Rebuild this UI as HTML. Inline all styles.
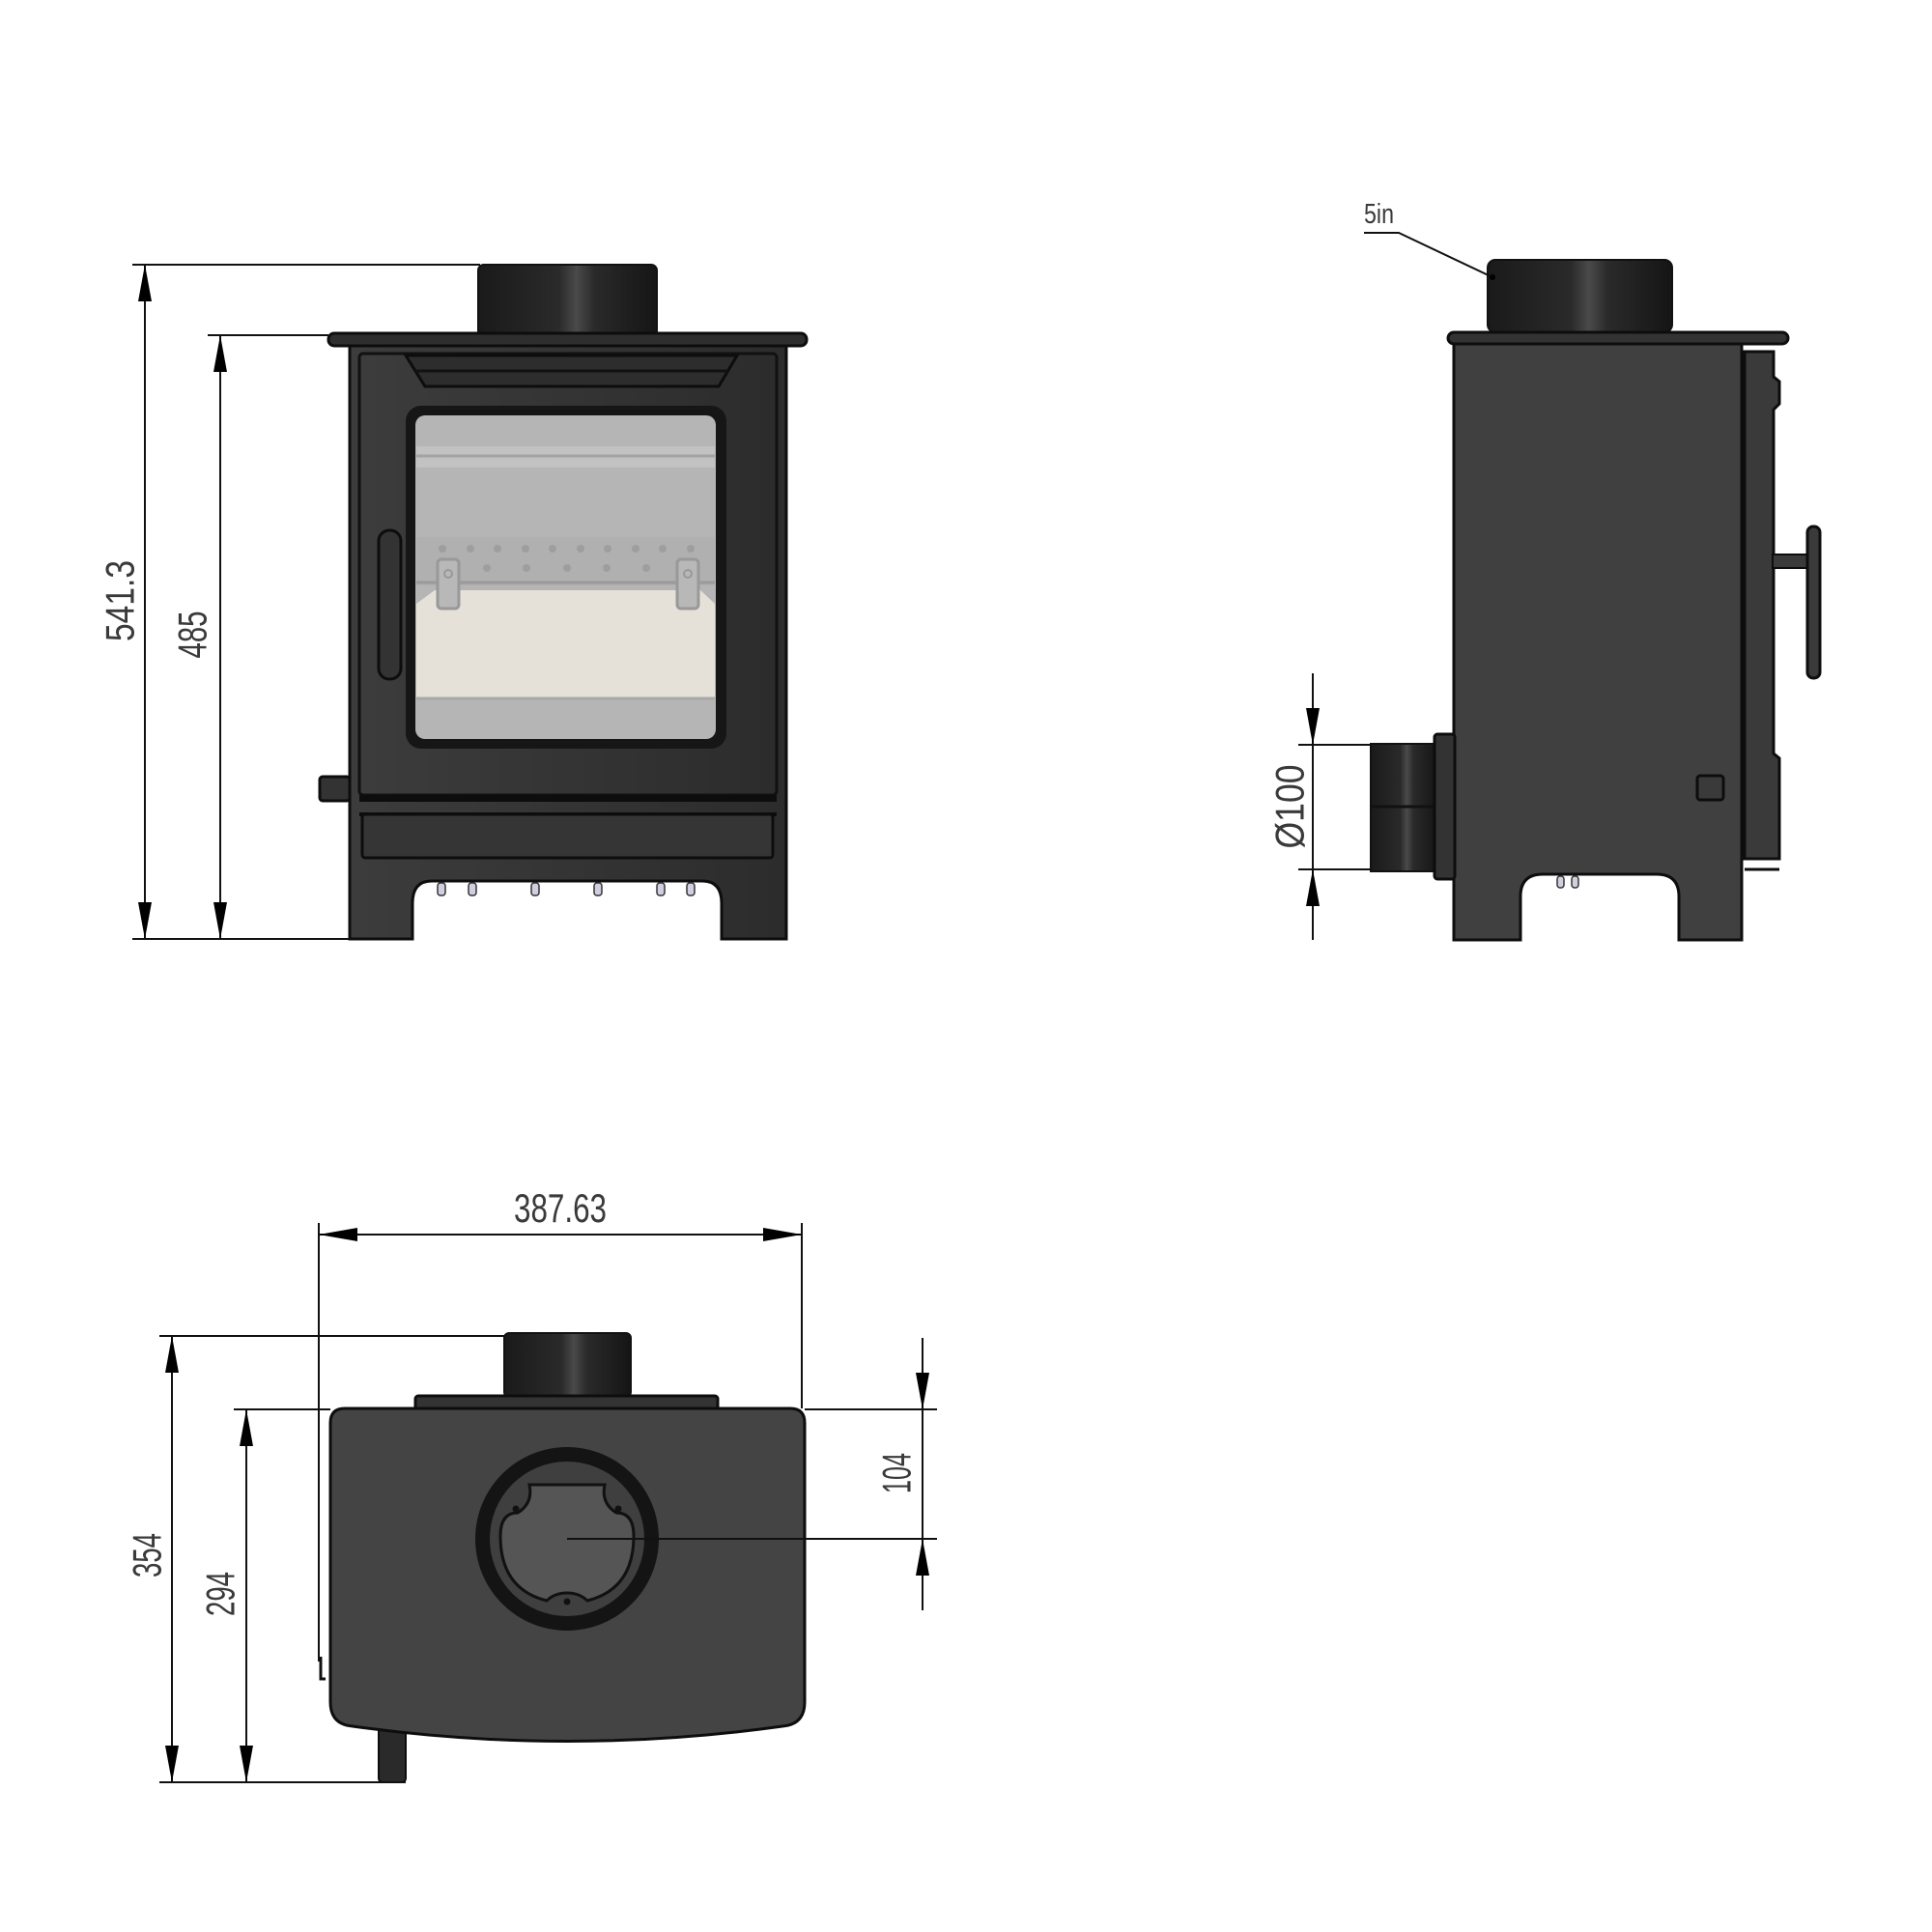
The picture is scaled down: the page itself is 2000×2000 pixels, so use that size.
<!DOCTYPE html>
<html><head><meta charset="utf-8"><style>
html,body{margin:0;padding:0;background:#fff;}
svg{display:block;}
text{font-family:"Liberation Sans",sans-serif;fill:#3a3a3a;font-size:42px;}
</style></head><body>
<svg width="2000" height="2000" viewBox="0 0 2000 2000" xmlns="http://www.w3.org/2000/svg">
<defs>
<linearGradient id="flue" x1="0" x2="1" y1="0" y2="0">
<stop offset="0" stop-color="#1a1a1a"/><stop offset="0.45" stop-color="#2a2a2a"/><stop offset="0.55" stop-color="#4a4a4a"/><stop offset="0.65" stop-color="#2a2a2a"/><stop offset="1" stop-color="#151515"/>
</linearGradient>
<linearGradient id="body" x1="0" x2="1" y1="0" y2="0">
<stop offset="0" stop-color="#3c3c3c"/><stop offset="1" stop-color="#2c2c2c"/>
</linearGradient>
</defs>

<!-- ============ FRONT VIEW ============ -->
<rect x="495" y="274" width="185" height="74" rx="6" fill="url(#flue)" stroke="#111" stroke-width="2"/>
<path d="M362,358 L814,358 L814,972 L747,972 L747,935 Q747,912 727,912 L447,912 Q427,912 427,935 L427,972 L362,972 Z" fill="url(#body)" stroke="#0d0d0d" stroke-width="3"/>
<rect x="340" y="345" width="495" height="13" rx="6" fill="#2e2e2e" stroke="#0d0d0d" stroke-width="3"/>
<rect x="372" y="366" width="432" height="457" rx="4" fill="url(#body)" stroke="#111" stroke-width="3"/>
<polygon points="420,368 763,368 744,400 440,400" fill="#2d2d2d" stroke="#0d0d0d" stroke-width="3"/>
<line x1="430" y1="384" x2="754" y2="384" stroke="#111" stroke-width="3"/>
<rect x="420" y="420" width="332" height="355" rx="16" fill="#161616"/>
<rect x="430" y="430" width="311" height="335" rx="10" fill="#b5b5b5"/>
<rect x="431" y="462" width="309" height="22" fill="#c2c2c2"/>
<line x1="431" y1="472" x2="740" y2="472" stroke="#a3a3a3" stroke-width="3"/>
<rect x="431" y="556" width="309" height="50" fill="#b0b0b0"/>
<line x1="431" y1="603" x2="740" y2="603" stroke="#9a9a9a" stroke-width="3"/>
<g fill="#9e9e9e">
<circle cx="458" cy="568" r="4"/><circle cx="487" cy="568" r="4"/><circle cx="515" cy="568" r="4"/><circle cx="544" cy="568" r="4"/><circle cx="572" cy="568" r="4"/><circle cx="601" cy="568" r="4"/><circle cx="629" cy="568" r="4"/><circle cx="658" cy="568" r="4"/><circle cx="686" cy="568" r="4"/><circle cx="715" cy="568" r="4"/>
<circle cx="504" cy="588" r="4"/><circle cx="545" cy="588" r="4"/><circle cx="587" cy="588" r="4"/><circle cx="628" cy="588" r="4"/><circle cx="669" cy="588" r="4"/>
</g>
<path d="M431,625 L450,611 L725,611 L740,625 L740,723 L431,723 Z" fill="#e6e1d8"/>
<line x1="431" y1="723" x2="740" y2="723" stroke="#a8a8a8" stroke-width="3"/>
<rect x="453" y="579" width="22" height="51" rx="4" fill="#b8b8b8" stroke="#999" stroke-width="3"/>
<circle cx="464" cy="594" r="4" fill="none" stroke="#999" stroke-width="2"/>
<rect x="701" y="579" width="22" height="51" rx="4" fill="#b8b8b8" stroke="#999" stroke-width="3"/>
<circle cx="712" cy="594" r="4" fill="none" stroke="#999" stroke-width="2"/>
<rect x="392" y="549" width="23" height="154" rx="11" fill="#333" stroke="#0d0d0d" stroke-width="3"/>
<rect x="331" y="804" width="31" height="25" rx="3" fill="#333" stroke="#0d0d0d" stroke-width="3"/>
<rect x="372" y="823" width="432" height="7" fill="#0d0d0d"/>
<line x1="372" y1="843" x2="804" y2="843" stroke="#0d0d0d" stroke-width="4"/>
<rect x="375" y="843" width="425" height="45" rx="3" fill="#353535" stroke="#0d0d0d" stroke-width="3"/>
<g fill="#cfcfe0" stroke="#333" stroke-width="1.5">
<rect x="453" y="914" width="8" height="13" rx="3"/><rect x="485" y="914" width="8" height="13" rx="3"/><rect x="550" y="914" width="8" height="13" rx="3"/><rect x="615" y="914" width="8" height="13" rx="3"/><rect x="680" y="914" width="8" height="13" rx="3"/><rect x="711" y="914" width="8" height="13" rx="3"/>
</g>
<g stroke="#111" stroke-width="2">
<line x1="137" y1="274" x2="497" y2="274"/>
<line x1="137" y1="972" x2="362" y2="972"/>
<line x1="215" y1="347" x2="340" y2="347"/>
<line x1="150" y1="274" x2="150" y2="972"/>
<line x1="228" y1="347" x2="228" y2="972"/>
</g>
<g fill="#000">
<polygon points="150,274 143,312 157,312"/><polygon points="150,972 143,934 157,934"/>
<polygon points="228,347 221,385 235,385"/><polygon points="228,972 221,934 235,934"/>
</g>
<text transform="translate(124,622) rotate(-90)" text-anchor="middle" dominant-baseline="central" textLength="84" lengthAdjust="spacingAndGlyphs">541.3</text>
<text transform="translate(199,657) rotate(-90)" text-anchor="middle" dominant-baseline="central" textLength="49" lengthAdjust="spacingAndGlyphs">485</text>

<!-- ============ SIDE VIEW ============ -->
<rect x="1540" y="269" width="191" height="75" rx="8" fill="url(#flue)" stroke="#111" stroke-width="2"/>
<path d="M1505,356 L1803,356 L1803,973 L1738,973 L1738,928 Q1738,905 1715,905 L1597,905 Q1574,905 1574,928 L1574,973 L1505,973 Z" fill="#404040" stroke="#0d0d0d" stroke-width="3"/>
<rect x="1499" y="344" width="352" height="12" rx="6" fill="#333" stroke="#0d0d0d" stroke-width="3"/>
<path d="M1806,364 L1836,364 L1836,390 L1842,395 L1842,418 L1836,424 L1836,780 L1842,785 L1842,889 L1806,889 Z" fill="#3a3a3a" stroke="#0d0d0d" stroke-width="3"/>
<line x1="1806" y1="900" x2="1842" y2="900" stroke="#0d0d0d" stroke-width="3"/>
<rect x="1835" y="574" width="38" height="14" fill="#3a3a3a" stroke="#0d0d0d" stroke-width="2"/>
<rect x="1871" y="545" width="13" height="157" rx="6" fill="#3a3a3a" stroke="#0d0d0d" stroke-width="3"/>
<rect x="1419" y="770" width="68" height="132" fill="url(#flue)" stroke="#111" stroke-width="2"/>
<line x1="1419" y1="835" x2="1487" y2="835" stroke="#111" stroke-width="3"/>
<rect x="1485" y="760" width="21" height="150" rx="3" fill="#333" stroke="#0d0d0d" stroke-width="3"/>
<rect x="1757" y="803" width="27" height="25" rx="3" fill="#3a3a3a" stroke="#0d0d0d" stroke-width="3"/>
<g fill="#cfcfe0" stroke="#333" stroke-width="1.5"><rect x="1612" y="907" width="7" height="12" rx="3"/><rect x="1627" y="907" width="7" height="12" rx="3"/></g>
<g stroke="#111" stroke-width="2">
<line x1="1359" y1="697" x2="1359" y2="973"/>
<line x1="1344" y1="771" x2="1419" y2="771"/>
<line x1="1344" y1="900" x2="1419" y2="900"/>
<polyline points="1412,241 1448,241 1545,287" fill="none"/>
</g>
<g fill="#000">
<polygon points="1359,771 1352,733 1366,733"/><polygon points="1359,900 1352,938 1366,938"/>
</g>
<circle cx="1545" cy="287" r="3" fill="#000"/>
<text transform="translate(1335,835) rotate(-90)" text-anchor="middle" dominant-baseline="central" textLength="87" lengthAdjust="spacingAndGlyphs">Ø100</text>
<text x="1412" y="231" style="font-size:29px" textLength="31" lengthAdjust="spacingAndGlyphs">5in</text>

<!-- ============ TOP VIEW ============ -->
<rect x="522" y="1380" width="131" height="66" rx="5" fill="url(#flue)" stroke="#111" stroke-width="2"/>
<rect x="430" y="1445" width="313" height="15" rx="3" fill="#333" stroke="#0d0d0d" stroke-width="3"/>
<rect x="392" y="1785" width="28" height="60" rx="4" fill="#2a2a2a" stroke="#0d0d0d" stroke-width="2"/>
<path d="M357,1458 L818,1458 Q833,1458 833,1473 L833,1762 Q833,1785 810,1787 Q587,1818 365,1787 Q342,1785 342,1762 L342,1473 Q342,1458 357,1458 Z" fill="#444" stroke="#0d0d0d" stroke-width="3"/>
<circle cx="587" cy="1593" r="95" fill="#141414"/>
<circle cx="587" cy="1593" r="80" fill="#3f3f3f"/>
<path d="M548,1537 L626,1537 Q622,1556 638,1566 Q656,1566 656,1590 Q656,1645 608,1657 Q600,1649 587,1649 Q574,1649 566,1657 Q518,1645 518,1590 Q518,1566 536,1566 Q552,1556 548,1537 Z" fill="#555" stroke="#111" stroke-width="3"/>
<circle cx="534" cy="1562" r="3.5" fill="#111"/><circle cx="640" cy="1562" r="3.5" fill="#111"/><circle cx="587" cy="1658" r="3.5" fill="#111"/>
<path d="M332,1715 L332,1738 L337,1738" fill="none" stroke="#111" stroke-width="3"/>
<g stroke="#111" stroke-width="2">
<line x1="330" y1="1278" x2="830" y2="1278"/>
<line x1="330" y1="1266" x2="330" y2="1720"/>
<line x1="830" y1="1266" x2="830" y2="1458"/>
<line x1="165" y1="1383" x2="522" y2="1383"/>
<line x1="242" y1="1459" x2="342" y2="1459"/>
<line x1="165" y1="1845" x2="420" y2="1845"/>
<line x1="178" y1="1383" x2="178" y2="1845"/>
<line x1="255" y1="1459" x2="255" y2="1845"/>
<line x1="833" y1="1459" x2="970" y2="1459"/>
<line x1="587" y1="1593" x2="970" y2="1593"/>
<line x1="955" y1="1385" x2="955" y2="1667"/>
</g>
<g fill="#000">
<polygon points="330,1278 370,1271 370,1285"/><polygon points="830,1278 790,1271 790,1285"/>
<polygon points="178,1383 171,1421 185,1421"/><polygon points="178,1845 171,1807 185,1807"/>
<polygon points="255,1459 248,1497 262,1497"/><polygon points="255,1845 248,1807 262,1807"/>
<polygon points="955,1459 948,1421 962,1421"/><polygon points="955,1593 948,1631 962,1631"/>
</g>
<text x="580" y="1265" text-anchor="middle" textLength="96" lengthAdjust="spacingAndGlyphs">387.63</text>
<text transform="translate(152,1610) rotate(-90)" text-anchor="middle" dominant-baseline="central" textLength="46" lengthAdjust="spacingAndGlyphs">354</text>
<text transform="translate(228,1650) rotate(-90)" text-anchor="middle" dominant-baseline="central" textLength="46" lengthAdjust="spacingAndGlyphs">294</text>
<text transform="translate(928,1525) rotate(-90)" text-anchor="middle" dominant-baseline="central" textLength="42" lengthAdjust="spacingAndGlyphs">104</text>
</svg>
</body></html>
